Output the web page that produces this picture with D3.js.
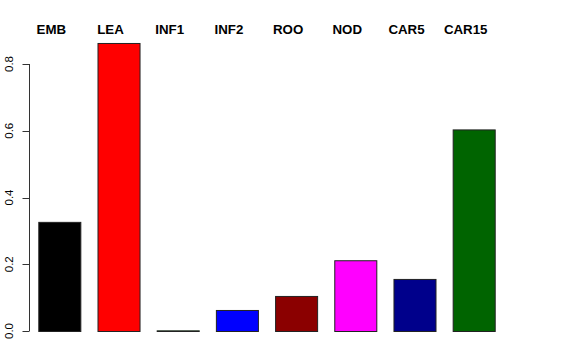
<!DOCTYPE html>
<html><head><meta charset="utf-8">
<script src="https://cdn.jsdelivr.net/npm/d3@7"></script>
<style>body{margin:0;background:#fff}svg{display:block}</style>
</head><body>
<svg id="c" width="576" height="360"></svg>
<script>
const categories = ["EMB","LEA","INF1","INF2","ROO","NOD","CAR5","CAR15"];
const values = [0.327, 0.863, 0.002, 0.063, 0.105, 0.212, 0.156, 0.604];
const colors = ["#000000","#FF0000","#00CD00","#0000FF","#8B0000","#FF00FF","#00008B","#006400"];
const yTicks = [0, 0.2, 0.4, 0.6, 0.8];

const svg = d3.select("#c");
const y = d3.scaleLinear().domain([0, 0.8]).range([331, 64]);
const x = d3.scaleBand().domain(categories).range([38.3, 494.7]).paddingInner(0.29).paddingOuter(0);

svg.selectAll("rect.bar").data(categories).join("rect")
  .attr("class","bar")
  .attr("x", d => x(d) + 0.5)
  .attr("width", x.bandwidth())
  .attr("y", (d,i) => y(values[i]) + 0.5)
  .attr("height", (d,i) => y(0) - y(values[i]))
  .attr("fill", (d,i) => colors[i])
  .attr("stroke", "#222")
  .attr("stroke-width", 1);

svg.selectAll("text.lab").data(categories).join("text")
  .attr("class","lab")
  .attr("x", d => x(d) + x.bandwidth()/2 - 8)
  .attr("y", 34)
  .attr("text-anchor","middle")
  .attr("font-family","Liberation Sans, Arial, sans-serif")
  .attr("font-weight","bold")
  .attr("font-size", 13.3)
  .attr("fill","#000")
  .text(d => d);

const axisX = 29.5;
svg.append("line").attr("x1", axisX).attr("x2", axisX)
  .attr("y1", y(0)).attr("y2", y(0.8)).attr("stroke","#333");
const tg = svg.selectAll("g.tick").data(yTicks).join("g").attr("class","tick");
tg.append("line").attr("x1", axisX - 7).attr("x2", axisX)
  .attr("y1", d => Math.round(y(d)) + 0.5).attr("y2", d => Math.round(y(d)) + 0.5).attr("stroke","#333");
tg.append("text")
  .attr("transform", d => `translate(12.7,${y(d)}) rotate(-90)`)
  .attr("text-anchor","middle")
  .attr("font-family","Liberation Sans, Arial, sans-serif")
  .attr("font-size", 11.5)
  .attr("fill","#000")
  .text(d => d.toFixed(1));
</script>
</body></html>
